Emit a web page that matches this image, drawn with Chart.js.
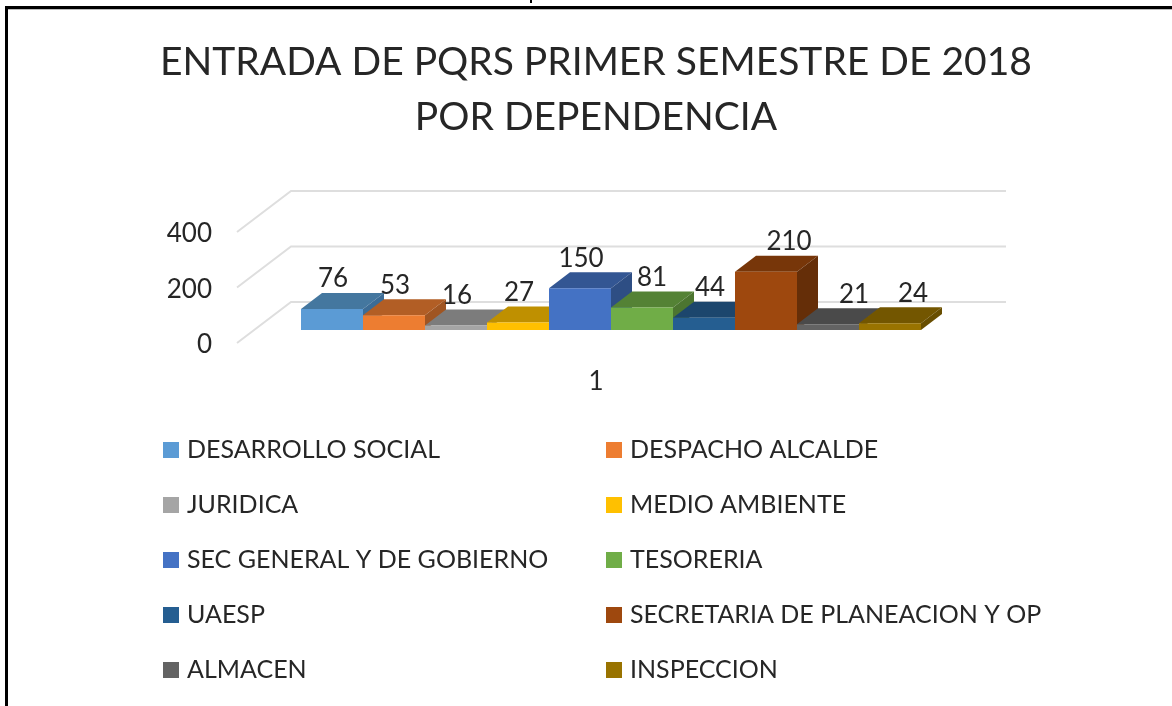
<!DOCTYPE html>
<html><head><meta charset="utf-8">
<style>html,body{margin:0;padding:0;background:#fff}canvas{display:block}</style>
<script src="https://cdn.jsdelivr.net/npm/chart.js@4"></script></head>
<body><canvas id="c" width="1172" height="706"></canvas>
<script>
const categories = ['1'];
const dependencias = ['DESARROLLO SOCIAL','DESPACHO ALCALDE','JURIDICA','MEDIO AMBIENTE','SEC GENERAL Y DE GOBIERNO','TESORERIA','UAESP','SECRETARIA DE PLANEACION Y OP','ALMACEN','INSPECCION'];
const valores = [76,53,16,27,150,81,44,210,21,24];
const yTicks = [0,200,400];
const titleLines = ['ENTRADA DE PQRS PRIMER SEMESTRE DE 2018','POR DEPENDENCIA'];
const frontColors = ['#5B9BD5','#ED7D31','#A5A5A5','#FFC000','#4472C4','#70AD47','#255E91','#9E480E','#636363','#997300'];
const topColors   = ['#44779F','#B25E25','#7C7C7C','#BF9000','#335693','#548235','#1C466D','#773609','#4A4A4A','#735600'];
const sideColors  = ['#3C6C96','#A05522','#6F6F6F','#AC8200','#2E4E84','#4C7530','#193F62','#652E08','#434343','#684E00'];
const labelNudgeX = [1,1,1,1,1,10,6,23,26,23];
const FONT = 'Lato, sans-serif', INK = '#262626';
const DX = 21, DY = 16, WALL_DX = 54, WALL_DY = 41;

const cube = {
  id:'cube',
  beforeDraw(chart){
    const c = chart.ctx; c.save(); c.fillStyle = '#000';
    c.fillRect(5,6,1167,3); c.fillRect(5,6,3,700);
    c.fillRect(530,0,2,3);
    c.fillStyle = '#bbb'; c.fillRect(8,9,1164,1);
    c.restore();
  },
  beforeDatasetsDraw(chart){
    const c = chart.ctx, y = chart.scales.y, a = chart.chartArea;
    const x0 = a.left - 33, x1 = x0 + WALL_DX, x2 = 1006;
    c.save(); c.strokeStyle = '#DEDEDE'; c.lineWidth = 2;
    yTicks.forEach(v => {
      const py = y.getPixelForValue(v);
      c.beginPath(); c.moveTo(x0,py); c.lineTo(x1,py-WALL_DY); c.lineTo(x2,py-WALL_DY); c.stroke();
    });
    // left to right so each column covers the side of the previous one
    valores.forEach((v,i) => {
      const bar = chart.getDatasetMeta(i).data[0];
      const l = bar.x - bar.width/2, r = bar.x + bar.width/2, t = bar.y, b = bar.base;
      c.fillStyle = topColors[i];
      c.beginPath(); c.moveTo(l,t); c.lineTo(l+DX,t-DY); c.lineTo(r+DX,t-DY); c.lineTo(r,t); c.closePath(); c.fill();
      c.fillStyle = sideColors[i];
      c.beginPath(); c.moveTo(r,t); c.lineTo(r+DX,t-DY); c.lineTo(r+DX,b-DY); c.lineTo(r,b); c.closePath(); c.fill();
      bar.draw(c);
    });
    c.restore();
  },
  beforeDatasetDraw(){ return false; },
  afterDatasetsDraw(chart){
    const c = chart.ctx; c.save();
    c.fillStyle = INK; c.textAlign='center'; c.textBaseline='middle'; c.font = '26px '+FONT;
    valores.forEach((v,i) => {
      const bar = chart.getDatasetMeta(i).data[0];
      c.fillText(String(v), bar.x + labelNudgeX[i], bar.y - DY - 14);
    });
    c.font = '25px '+FONT; c.textAlign='left';
    dependencias.forEach((name,i) => {
      const col = i%2, row = Math.floor(i/2);
      const sx = col ? 606 : 163, cy = 450 + row*55;
      c.fillStyle = frontColors[i]; c.fillRect(sx,cy-8,16,16);
      c.fillStyle = INK; c.fillText(name, sx+24, cy);
    });
    c.restore();
  }
};

new Chart(document.getElementById('c'),{
  type:'bar',
  data:{labels:categories,datasets:dependencias.map((n,i)=>({
    label:n,data:[valores[i]],backgroundColor:frontColors[i],borderWidth:0,
    yAxisID:'yBars',categoryPercentage:620/682,barPercentage:1}))},
  options:{
    responsive:false,animation:false,devicePixelRatio:1,
    layout:{padding:{left:20,right:0,top:0,bottom:0},autoPadding:false},
    plugins:{
      legend:{display:false},tooltip:{enabled:false},
      title:{display:true,text:titleLines,color:INK,font:{family:FONT,size:39,weight:'normal',lineHeight:55/39},padding:{top:34.5,bottom:87.5}}
    },
    scales:{
      x:{position:'bottom',grid:{display:false},border:{display:false},
        ticks:{color:INK,font:{family:FONT,size:26},padding:15,labelOffset:-15,maxRotation:0},
        afterFit(s){s.height=363;}},
      y:{position:'left',min:0,max:400,grid:{display:false},border:{display:false},
        afterBuildTicks(s){s.ticks=yTicks.map(v=>({value:v}));},
        ticks:{color:INK,font:{family:FONT,size:26},padding:50,labelOffset:2,autoSkip:false},
        afterFit(s){s.width=250;}},
      yBars:{position:'right',min:-46.85,max:353.15,display:true,grid:{display:false},border:{display:false},
        ticks:{display:false},afterFit(s){s.width=220;}}
    }
  },
  plugins:[cube]
});
</script></body></html>
